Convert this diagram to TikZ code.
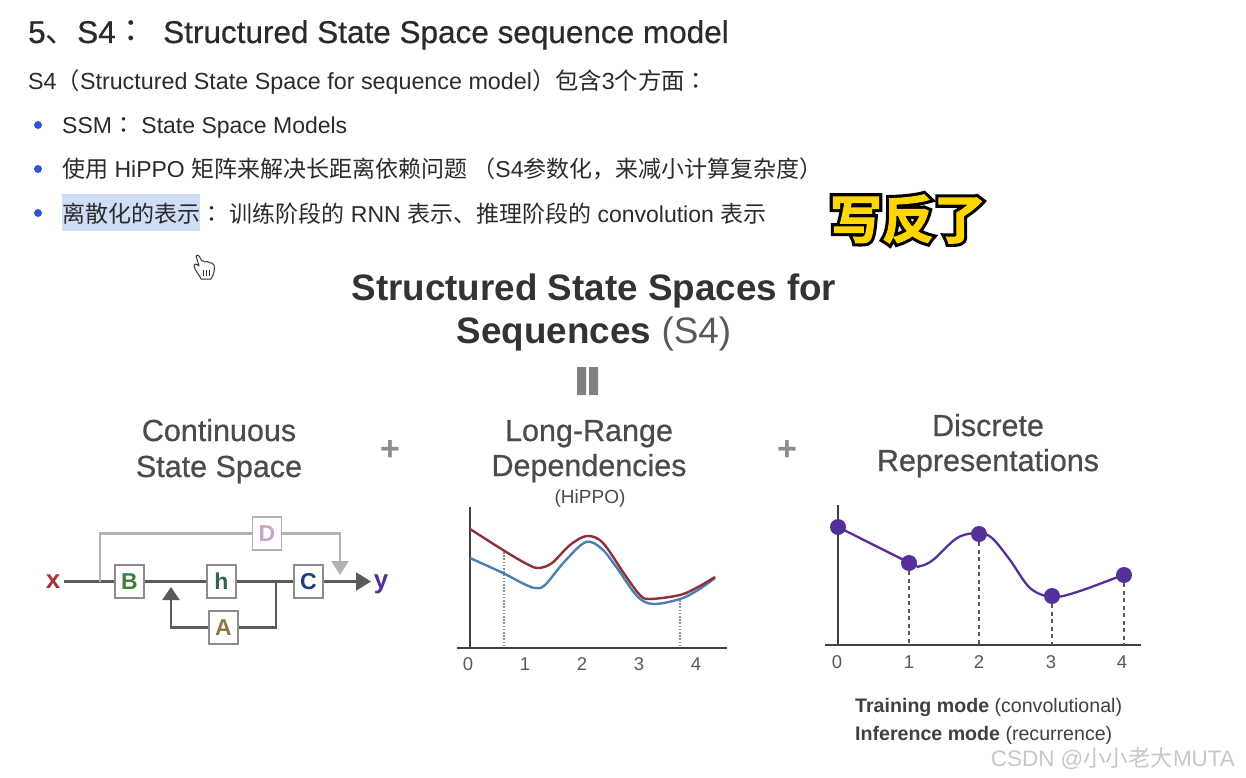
\documentclass[tikz,border=0pt]{standalone}
\usepackage{fontspec}
\setmainfont{Liberation Sans}
\newfontfamily\headf[FakeBold=0.6]{Liberation Sans}
\newfontfamily\cjk{Noto Sans CJK SC}
\newfontfamily\cjkc{Noto Sans CJK TC}
\newfontfamily\cjkfat[FakeBold=14]{Noto Sans CJK SC Bold}
\newfontfamily\cjkbold[FakeBold=2]{Noto Sans CJK SC Bold}
\usetikzlibrary{arrows.meta,calc}
\definecolor{ink}{HTML}{2B2B2B}
\definecolor{cline}{HTML}{5A5A5A}
\definecolor{dline}{HTML}{B2B2B2}
\definecolor{purp}{HTML}{55309A}
\definecolor{hl}{HTML}{CFDDF7}
\definecolor{bul}{HTML}{2F55D4}
\definecolor{rcurve}{HTML}{8E2F3A}
\definecolor{bcurve}{HTML}{4A7FB5}
\newcommand{\fs}[1]{\fontsize{#1}{#1}\selectfont}
\tikzset{
  txt/.style={anchor=base west,inner sep=0pt,text=ink},
  ctxt/.style={anchor=base,inner sep=0pt,text=ink!85!white},
  blockbox/.style={draw=black!45,line width=1.3pt,fill=white,minimum width=29pt,minimum height=33pt,inner sep=0pt,font=\fs{23}\bfseries},
  conn/.style={draw=cline,line width=2.4pt},
  dconn/.style={draw=dline,line width=2.2pt},
  tick/.style={anchor=base,inner sep=0pt,text=black!65,font=\fs{18.5}},
  axisline/.style={draw=black!75,line width=2.4pt},
  pt/.style={circle,fill=purp,inner sep=0pt,minimum size=16pt},
  bulletdot/.style={circle,fill=bul,inner sep=0pt,minimum size=8pt},
  stemdash/.style={draw=black!65,dash pattern=on 4pt off 3.5pt,line width=2.3pt},
  stemdot/.style={draw=black!45,dash pattern=on 1.6pt off 1.6pt,line width=1.9pt},
  colhead/.style={ctxt,font=\fs{30.5}\headf},
}
\begin{document}
\begin{tikzpicture}[x=1pt,y=-1pt]
\useasboundingbox (0,0) rectangle (1246,778);
\fill[white] (0,0) rectangle (1246,778);
% heading
\node[txt,font=\fs{31.5}\headf] (h1) at (28,43) {5{\cjk 、}S4{\cjkc ：}};
\node[txt,font=\fs{31.5}\headf] (h2) at (163,43) {Structured State Space sequence model};
\node[txt,font=\fs{23.3}] (l0) at (28,90) {S4{\cjk （}Structured State Space for sequence model{\cjk ）包含}3{\cjk 个方面}{\cjkc ：}};
\node[bulletdot] (b1) at (38,125) {};
\node[bulletdot] (b2) at (38,169) {};
\node[bulletdot] (b3) at (38,213) {};
\node[txt,font=\fs{23}] (l1) at (62,134) {SSM{\cjkc ：} State Space Models};
\node[txt,font=\fs{23}] (l2) at (62,178) {{\cjk 使用} HiPPO {\cjk 矩阵来解决长距离依赖问题 （}S4{\cjk 参数化，来减小计算复杂度）}};
\fill[hl] (62,194) rectangle (200,231);
\node[txt,font=\fs{23}] (l3) at (62,222) {{\cjk 离散化的表示}{\cjkc ：} {\cjk 训练阶段的} RNN {\cjk 表示、推理阶段的} convolution {\cjk 表示}};
% sticker
\node[anchor=center,inner sep=0pt,text=black,font=\fs{52}\cjkfat] (st0) at (908,219) {写反了};
\node[anchor=center,inner sep=0pt,text={rgb,255:red,255;green,214;blue,0},font=\fs{52}\cjkbold] (st) at (908,219) {写反了};
% cursor
\draw[black!80,line width=1pt,fill=white,line join=round]
 (199,256) .. controls (197,254) and (195,256) .. (197,259) -- (199,266)
 .. controls (197,264) and (194,263) .. (194,266) .. controls (195,271) and (199,274) .. (201,279)
 -- (211,279) .. controls (214,274) and (215,270) .. (214,265)
 .. controls (213,262) and (210,263) .. (210,263) .. controls (208,261) and (206,261) .. (205,262)
 .. controls (203,260) and (202,261) .. (202,261) -- cycle;
\draw[black!80,line width=.8pt] (203,270)--(203,276) (206,270)--(206,276) (209,270)--(209,276);
% title
\node[ctxt,font=\fs{36.8}\bfseries,text=black!80] (t1) at (594,300) {Structured State Spaces for};
\node[ctxt,font=\fs{36.8},text=black!80] (t2) at (594,343) {\textbf{Sequences} {\color{black!65}(S4)}};
\fill[black!50] (577,367) rectangle (586,395) (589,367) rectangle (598,395);
% headings of columns
\node[colhead] (c1) at (219,441) {Continuous};
\node[colhead] (c2) at (219,477) {State Space};
\node[colhead] (c3) at (589,441) {Long-Range};
\node[colhead] (c4) at (589,476) {Dependencies};
\node[ctxt,font=\fs{19}] (c5) at (590,503) {(HiPPO)};
\node[colhead] (c6) at (988,436) {Discrete};
\node[colhead] (c7) at (988,471) {Representations};
\node[anchor=center,inner sep=0pt,font=\fs{34}\bfseries,text=black!45] (p1) at (390,451) {+};
\node[anchor=center,inner sep=0pt,font=\fs{34}\bfseries,text=black!45] (p2) at (787,451) {+};
% block diagram
\node[blockbox,text={rgb,255:red,62;green,127;blue,60}] (B) at (129.5,581.5) {B};
\node[blockbox,text={rgb,255:red,58;green,95;blue,90}] (H) at (221.5,581.5) {h};
\node[blockbox,text={rgb,255:red,30;green,62;blue,124}] (C) at (308.5,581.5) {C};
\node[blockbox,text={rgb,255:red,138;green,122;blue,62}] (A) at (223.5,627.5) {A};
\node[blockbox,draw=black!30,text={rgb,255:red,200;green,165;blue,200}] (D) at (267,533.5) {D};
\node[anchor=base,inner sep=0pt,font=\fs{26}\bfseries,text={rgb,255:red,168;green,50;blue,58}] (X) at (53,588) {x};
\node[anchor=base,inner sep=0pt,font=\fs{26}\bfseries,text=purp] (Y) at (381,588) {y};
\coordinate (xs) at (64,581.5);
\coordinate (ye) at (371,581.5);
\coordinate (jx) at (100,581.5);
\coordinate (jh) at (276,581.5);
\coordinate (fb) at (171,587);
\coordinate (dend) at (340,575);
\draw[conn] (xs) -- (B.west);
\draw[conn] (B.east) -- (H.west);
\draw[conn] (H.east) -- (C.west);
\draw[conn,-{Triangle[length=15pt,width=18pt]}] (C.east) -- (ye);
\draw[conn] (jh) |- (A.east);
\draw[conn,-{Triangle[length=13pt,width=17pt]}] (A.west) -| (fb);
\draw[dconn] (jx) |- (D.west);
\draw[dconn,-{Triangle[length=14pt,width=17pt]}] (D.east) -| (dend);
% HiPPO chart
\coordinate (ax1t) at (470,507); \coordinate (ax1b) at (470,648);
\coordinate (ax1l) at (457,648); \coordinate (ax1r) at (727,648);
\coordinate (s1a) at (504,552); \coordinate (s1b) at (504,646);
\coordinate (s2a) at (680,600); \coordinate (s2b) at (680,646);
\draw[stemdot] (s1a) -- (s1b);
\draw[stemdot] (s2a) -- (s2b);
\draw[axisline] (ax1t) -- (ax1b);
\draw[axisline] (ax1l) -- (ax1r);
\draw[bcurve,line width=2.4pt,line join=round] plot[smooth,tension=.55] coordinates {(470,558)(503,573)(522,583)(535,588)(545,585)(565,561)(586,542)(602,549)(617,568)(637,596)(653,604)(680,599)(698,590)(715,578)};
\draw[rcurve,line width=2.4pt,line join=round] plot[smooth,tension=.55] coordinates {(470,529)(503,550)(525,563)(538,568)(552,563)(570,545)(587,536)(603,543)(625,575)(640,595)(650,599)(680,595)(698,587)(715,577)};
\node[tick] (a0) at (468,670) {0};
\node[tick] (a1) at (525,670) {1};
\node[tick] (a2) at (582,670) {2};
\node[tick] (a3) at (639,670) {3};
\node[tick] (a4) at (696,670) {4};
% Discrete chart
\coordinate (ax2t) at (838,505); \coordinate (ax2b) at (838,645);
\coordinate (ax2l) at (825,645); \coordinate (ax2r) at (1141,645);
\draw[axisline] (ax2t) -- (ax2b);
\draw[axisline] (ax2l) -- (ax2r);
\draw[purp,line width=2.3pt,line join=round] plot[smooth,tension=.55] coordinates {(838,527)(910,563)(920,566)(933,560)(957,538)(978,533)(992,538)(1010,560)(1030,588)(1052,597)(1077,592)(1123,575)};
\coordinate (f1) at (909,645); \coordinate (f2) at (979,645);
\coordinate (f3) at (1052,645); \coordinate (f4) at (1124,645);
\node[pt] (q0) at (838,527) {};
\node[pt] (q1) at (909,563) {};
\node[pt] (q2) at (979,534) {};
\node[pt] (q3) at (1052,596) {};
\node[pt] (q4) at (1124,575) {};
\draw[stemdash] (q1) -- (f1);
\draw[stemdash] (q2) -- (f2);
\draw[stemdash] (q3) -- (f3);
\draw[stemdash] (q4) -- (f4);
\node[tick] (d0) at (837,668) {0};
\node[tick] (d1) at (909,668) {1};
\node[tick] (d2) at (979,668) {2};
\node[tick] (d3) at (1051,668) {3};
\node[tick] (d4) at (1122,668) {4};
\node[txt,font=\fs{19.6},text=black!75] (m1) at (855,712) {\textbf{Training mode} (convolutional)};
\node[txt,font=\fs{19.6},text=black!75] (m2) at (855,740) {\textbf{Inference mode} (recurrence)};
\node[anchor=base east,inner sep=0pt,font=\fs{22.4},text=black!22] (wm) at (1235,766) {CSDN @{\cjk 小小老大}MUTA};
\end{tikzpicture}
\end{document}
